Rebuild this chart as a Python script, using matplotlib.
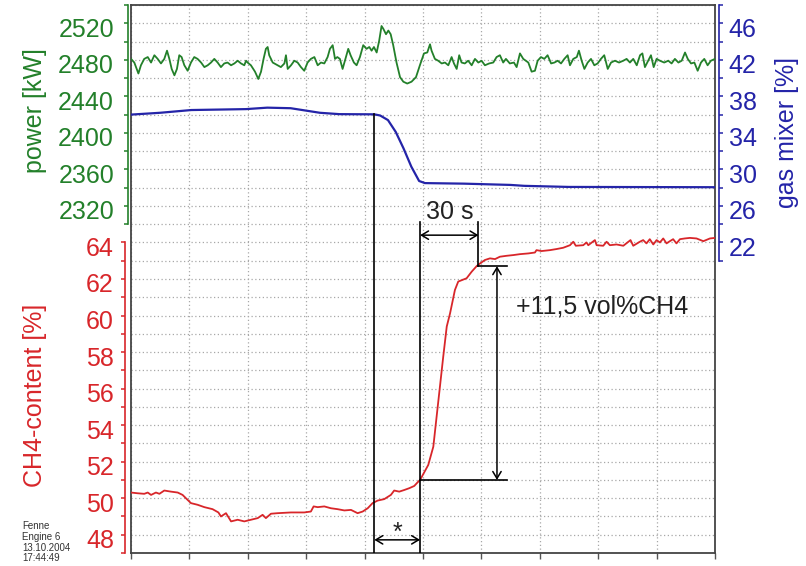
import numpy as np
import matplotlib.pyplot as plt
from matplotlib.transforms import ScaledTranslation

plt.rcParams['font.family'] = ['Liberation Sans', 'DejaVu Sans']

# time in s (one grid division = 30 s)
t_green = [0, 1.7, 3.8, 5.1, 6.8, 8.6, 10.3, 12, 13.7, 15.4, 17.1, 18.5, 19.7, 20.9, 22.3,
           23.6, 24.8, 26, 27.4, 29.1, 30.8, 32.5, 34.2, 36, 37.7, 39.4, 41.1, 42.8, 44.5,
           46.2, 47.9, 49.6, 51.4, 53.1, 54.8, 56.5, 58.2, 59.1, 59.9, 61.6, 63.7, 65.4,
           66.8, 68.1, 69.3, 70.2, 71, 72.8, 75.3, 77, 78.8, 79.6, 80.5, 82.2, 83.9, 85.6,
           87.3, 89, 90.7, 92.4, 94.2, 95.9, 97.6, 99.3, 101, 102.2, 103.6, 104.8, 106,
           107.3, 108.7, 109.9, 111.6, 112.8, 114.5, 115.9, 117.6, 119.3, 121, 122.4, 123.6,
           124.8, 126.2, 127.5, 128.7, 129.6, 131, 132.2, 133.4, 134.7, 136.4, 138.2, 139.9,
           141.9, 144.1, 146.4, 148.4, 150.5, 152.2, 153.6, 154.4, 156.1, 157.8, 159.6,
           161.3, 163, 164.7, 165.9, 167.3, 168.6, 169.8, 171.5, 173.2, 175, 176.7, 178.4,
           180.1, 181.8, 184, 186.1, 187.8, 189.5, 191.2, 192.6, 194.6, 196.7, 198.1, 199.8,
           201.5, 204.1, 205.8, 207.5, 208.9, 210.6, 212.3, 214, 215.8, 217.5, 219.2, 220.9,
           222.6, 224.3, 225.5, 227.2, 229, 230.1, 231.5, 232.9, 234.6, 236.3, 238, 239.7,
           241.4, 243.1, 244.9, 246.6, 248.6, 250.7, 252.9, 254.6, 256.3, 258, 259.8, 261.5,
           262.7, 264, 265.7, 267.1, 268.5, 270, 271.7, 273.9, 276, 277.7, 279.4, 281.2,
           282.9, 284.6, 286, 287.7, 289.4, 291.1, 292.8, 294.5, 296.2, 297.9, 300]
power_kw = [2481, 2477, 2465, 2474, 2481, 2483, 2477, 2485, 2481, 2476, 2481, 2490, 2481, 2470, 2463,
            2470, 2485, 2483, 2474, 2468, 2477, 2483, 2481, 2477, 2472, 2474, 2477, 2481, 2477,
            2472, 2476, 2477, 2474, 2476, 2479, 2476, 2474, 2479, 2477, 2474, 2467, 2459,
            2467, 2481, 2492, 2494, 2485, 2477, 2474, 2472, 2476, 2485, 2470, 2474, 2479, 2477,
            2472, 2468, 2477, 2481, 2483, 2474, 2477, 2476, 2483, 2492, 2496, 2481, 2483,
            2481, 2470, 2479, 2492, 2485, 2477, 2474, 2483, 2496, 2492, 2494, 2490,
            2494, 2488, 2501, 2517, 2514, 2508, 2512, 2508, 2496, 2477, 2461, 2456,
            2454, 2456, 2461, 2474, 2487, 2488, 2497, 2490, 2481, 2479, 2476,
            2477, 2474, 2483, 2476, 2470, 2485, 2477, 2476, 2479, 2474, 2481, 2477,
            2479, 2474, 2476, 2477, 2483, 2485, 2477, 2481, 2476, 2477, 2472, 2487,
            2481, 2477, 2467, 2468, 2479, 2483, 2481, 2485, 2476, 2477, 2479, 2476,
            2481, 2485, 2474, 2481, 2483, 2490, 2479, 2470, 2477, 2481, 2474, 2476,
            2481, 2485, 2470, 2477, 2479, 2477, 2479, 2481, 2477, 2481, 2474, 2485,
            2487, 2472, 2479, 2485, 2472, 2481, 2479, 2477, 2479, 2476, 2481, 2477,
            2479, 2488, 2481, 2476, 2477, 2468, 2477, 2481, 2474, 2479, 2481]

t_blue = [0, 15, 31, 59, 70, 82, 91, 97, 107, 125, 128, 132, 136, 140, 144, 148, 151,
          171, 195, 202, 225, 300]
gas_mixer = [36.0, 36.2, 36.5, 36.6, 36.76, 36.7, 36.4, 36.2, 36.05, 36.03, 35.9, 35.4,
             34.1, 32.3, 30.3, 28.73, 28.5, 28.44, 28.3, 28.2, 28.08, 28.05]

t_red = [0, 3.4, 6.8, 8.6, 10.3, 12.8, 14.6, 17.1, 20.5, 24, 26.5, 28.2, 30.8, 34.2, 37.7,
         41.9, 44.9, 46.2, 48.8, 51.4, 54.8, 58.2, 61.6, 65.1, 67.6, 69.3, 71.9, 75.3, 82.2,
         89, 92.4, 93.8, 95.9, 99.3, 102.7, 106.1, 109.6, 113, 116.4, 119, 121.6, 124.1,
         126.7, 130.1, 133.5, 135.2, 137.8, 140.4, 143, 145.5, 147.6, 148.5, 152.7, 155.3,
         157, 158.7, 160.4, 162.2, 163.9, 166.4, 168.1, 172.4, 175, 177.6, 179.3, 181.8,
         184.4, 187, 189.5, 192.9, 196.4, 199.8, 204.1, 207.5, 208.3, 210.9, 215.2, 218.6,
         222, 225.5, 227.2, 228.5, 232.3, 234, 234.9, 238.3, 239.2, 242.6, 244.3, 246,
         249.4, 252.9, 256.6, 258, 261.4, 263.1, 264.8, 266.5, 268.3, 270, 271.7, 273.4,
         275.1, 276.8, 278.5, 280.2, 282, 284.5, 287.1, 290.5, 294, 297.4, 300]
ch4 = [50.31, 50.27, 50.24, 50.31, 50.18, 50.31, 50.24, 50.42, 50.36, 50.31, 50.18, 50.0,
       49.73, 49.64, 49.51, 49.4, 49.22, 49.0, 49.18, 48.73, 48.82, 48.73, 48.82, 48.91,
       49.09, 48.91, 49.15, 49.18, 49.22, 49.22, 49.27, 49.55, 49.51, 49.55, 49.45, 49.4,
       49.33, 49.36, 49.18, 49.27, 49.45, 49.73, 49.87, 49.95, 50.18, 50.42, 50.36, 50.45,
       50.55, 50.67, 50.91, 51.0, 51.82, 52.82, 54.47, 56.11, 57.75, 59.4, 60.12, 61.4,
       61.86, 62.04, 62.4, 62.71, 62.85, 63.04, 63.13, 63.09, 63.22, 63.27, 63.31, 63.36,
       63.4, 63.45, 63.58, 63.53, 63.58, 63.64, 63.71, 63.85, 64.04, 63.82, 63.85, 64.0,
       63.85, 64.13, 63.85, 63.82, 64.04, 63.85, 63.89, 63.82, 64.13, 63.82, 64.04, 64.13,
       63.95, 64.18, 63.89, 64.13, 64.0, 64.22, 63.95, 64.07, 64.18, 63.95, 64.18, 64.22,
       64.25, 64.22, 64.07, 64.22, 64.25]

# annotation values
t_step = 125.0        # gas mixer starts closing
t_rise = 148.5        # CH4 starts rising
response_s = 30
ch4_low, ch4_high = 51.0, 62.7

GREEN = '#23802a'
RED = '#d8262a'
BLUE = '#2424a8'

fig = plt.figure(figsize=(8.06, 5.66), dpi=100)
pos = [131 / 806, 13 / 566, 584 / 806, 548 / 566]

# background: frame + grid
ax_bg = fig.add_axes(pos)
ax_bg.set_xlim(0, 300)
ax_bg.set_ylim(0, 30)
ax_bg.set_xticks(np.arange(0, 301, 30))
ax_bg.set_yticks(np.arange(0, 31, 1))
ax_bg.grid(True, color='#a8a8a8', linestyle=(0, (1, 2)), linewidth=0.9)
ax_bg.tick_params(axis='x', direction='out', length=4, width=1, color='#555555', labelbottom=False)
ax_bg.tick_params(axis='y', length=0, labelleft=False)
for s in ax_bg.spines.values():
    s.set_color('#444444')
    s.set_linewidth(1.3)

# labels sit a few px below their ticks in the original
shift = ScaledTranslation(0, -4 / 100, fig.dpi_scale_trans)


def side_axis(ylim, side, offset, bounds, major, minor, color, pad):
    ax = fig.add_axes(pos, facecolor='none')
    ax.set_xlim(0, 300)
    ax.set_ylim(*ylim)
    ax.set_xticks([])
    for k in ['top', 'bottom', 'left', 'right']:
        if k != side:
            ax.spines[k].set_visible(False)
    sp = ax.spines[side]
    sp.set_position(('outward', offset))
    sp.set_bounds(*bounds)
    sp.set_color(color)
    sp.set_linewidth(1.2)
    if side == 'right':
        ax.yaxis.tick_right()
    ax.set_yticks(major)
    ax.set_yticks(minor, minor=True)
    ax.tick_params(axis='y', which='both', colors=color, direction='out', width=1.1)
    ax.tick_params(axis='y', which='major', length=3, pad=pad, labelsize=18)
    ax.tick_params(axis='y', which='minor', length=3)
    for tk in ax.yaxis.get_major_ticks():
        tk.label1.set_transform(tk.label1.get_transform() + shift)
        tk.label2.set_transform(tk.label2.get_transform() + shift)
    return ax


ax_p = side_axis((1940, 2540), 'left', 2.2, (2300, 2540), np.arange(2320, 2521, 40),
                 np.arange(2300, 2541, 20), GREEN, 7)
ax_b = side_axis((-12, 48), 'right', 2.9, (20, 48), np.arange(22, 47, 4),
                 np.arange(20, 49, 2), BLUE, 4)
ax_r = side_axis((47, 77), 'left', 4.3, (47, 64), np.arange(48, 65, 2),
                 np.arange(47, 65, 1), RED, 5)

ax_p.plot(t_green, power_kw, color=GREEN, lw=1.3)
ax_b.plot(t_blue, gas_mixer, color=BLUE, lw=1.6)
ax_r.plot(t_red, ch4, color=RED, lw=1.3)

# annotations
blk = dict(color='black', lw=1.2)
top_mix = 47 + (gas_mixer[t_blue.index(t_step)] + 12) / 2
ax_r.plot([t_step, t_step], [top_mix, 47], **blk)
ax_r.plot([t_rise, t_rise], [65.1, 47], **blk)
ax_r.plot([t_rise + response_s] * 2, [65.1, ch4_high], **blk)
ax_r.plot([t_rise + response_s, 193.2], [ch4_high, ch4_high], **blk)
ax_r.plot([t_rise, 193.2], [ch4_low, ch4_low], **blk)
arw = dict(arrowstyle='<->,head_length=0.5,head_width=0.3', lw=1.1, color='black',
           shrinkA=0, shrinkB=0)
ax_r.annotate('', xy=(t_rise, 64.4), xytext=(t_rise + response_s, 64.4), arrowprops=arw)
ax_r.annotate('', xy=(188, ch4_high), xytext=(188, ch4_low), arrowprops=arw)
ax_r.annotate('', xy=(t_step, 47.72), xytext=(t_rise, 47.72), arrowprops=arw)
ax_r.text(t_rise + response_s / 2, 65.65, '30 s', ha='center', va='center', fontsize=18, color='#222222')
ax_r.text(242, 60.5, '+11,5 vol%CH4', ha='center', va='center', fontsize=18, color='#222222')
ax_r.text((t_step + t_rise) / 2, 47.72, '*', ha='center', va='baseline', fontsize=18, color='#222222')

# axis labels
fig.text(35 / 806, 1 - 111 / 566, 'power [kW]', rotation=90, ha='center', va='center',
         fontsize=18, color=GREEN)
fig.text(35 / 806, 1 - 395 / 566, 'CH4-content [%]', rotation=90, ha='center', va='center',
         fontsize=18, color=RED)
fig.text(787 / 806, 1 - 133 / 566, 'gas mixer [%]', rotation=90, ha='center', va='center',
         fontsize=18, color=BLUE)
fig.text(22 / 806, 1 - 521 / 566, 'Fenne\nEngine 6\n13.10.2004\n17:44:49', ha='left', va='top',
         fontsize=7, linespacing=1.1, color='#333333')

fig.savefig('out.png', dpi=100)
